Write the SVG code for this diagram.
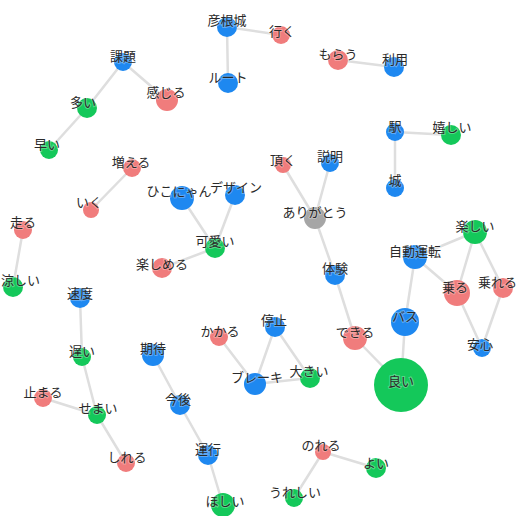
<svg xmlns="http://www.w3.org/2000/svg" width="518" height="516" viewBox="0 0 518 516">
<style>
.e{stroke:#dedede;stroke-width:2.5;fill:none;stroke-linecap:round}
.b{fill:#1e88f0}
.r{fill:#f07c7c}
.g{fill:#14c85a}
.k{fill:#a6a6a6}
text{font-family:"Noto Sans CJK JP","Noto Sans",sans-serif;font-size:13px;fill:#2a2a2a;text-anchor:middle;dominant-baseline:middle;stroke:#fff;stroke-width:2px;stroke-opacity:0.3;paint-order:stroke}
</style>
<rect width="518" height="516" fill="#fff"/>
<g id="edges">
<line class="e" x1="227" y1="27" x2="281" y2="35"/>
<line class="e" x1="227" y1="27" x2="228" y2="83"/>
<line class="e" x1="123" y1="62" x2="87" y2="108"/>
<line class="e" x1="123" y1="62" x2="167" y2="100"/>
<line class="e" x1="87" y1="108" x2="49" y2="150"/>
<line class="e" x1="132" y1="168" x2="91" y2="210"/>
<line class="e" x1="338" y1="60" x2="394" y2="67"/>
<line class="e" x1="395" y1="132" x2="451" y2="135"/>
<line class="e" x1="395" y1="132" x2="395" y2="188"/>
<line class="e" x1="283" y1="165" x2="315" y2="218"/>
<line class="e" x1="330" y1="163" x2="315" y2="218"/>
<line class="e" x1="315" y1="218" x2="335" y2="275"/>
<line class="e" x1="335" y1="275" x2="355" y2="338"/>
<line class="e" x1="355" y1="338" x2="401" y2="385"/>
<line class="e" x1="405" y1="322" x2="401" y2="385"/>
<line class="e" x1="415" y1="257" x2="405" y2="322"/>
<line class="e" x1="415" y1="257" x2="475" y2="232"/>
<line class="e" x1="415" y1="257" x2="457" y2="293"/>
<line class="e" x1="475" y1="232" x2="457" y2="293"/>
<line class="e" x1="475" y1="232" x2="503" y2="288"/>
<line class="e" x1="457" y1="293" x2="482" y2="348"/>
<line class="e" x1="503" y1="288" x2="482" y2="348"/>
<line class="e" x1="182" y1="198" x2="215" y2="248"/>
<line class="e" x1="235" y1="195" x2="215" y2="248"/>
<line class="e" x1="215" y1="248" x2="162" y2="268"/>
<line class="e" x1="23" y1="230" x2="13" y2="287"/>
<line class="e" x1="80" y1="298" x2="82" y2="357"/>
<line class="e" x1="82" y1="357" x2="97" y2="415"/>
<line class="e" x1="43" y1="398" x2="97" y2="415"/>
<line class="e" x1="97" y1="415" x2="126" y2="463"/>
<line class="e" x1="153" y1="355" x2="180" y2="405"/>
<line class="e" x1="180" y1="405" x2="208" y2="455"/>
<line class="e" x1="208" y1="455" x2="223" y2="505"/>
<line class="e" x1="219" y1="337" x2="255" y2="384"/>
<line class="e" x1="275" y1="327" x2="255" y2="384"/>
<line class="e" x1="275" y1="327" x2="310" y2="378"/>
<line class="e" x1="255" y1="384" x2="310" y2="378"/>
<line class="e" x1="323" y1="452" x2="376" y2="468"/>
<line class="e" x1="323" y1="452" x2="294" y2="498"/>
</g>
<g id="n-hikonejo"><circle class="b" cx="227" cy="27" r="10"/><text x="227" y="21">彦根城</text></g>
<g id="n-iku"><circle class="r" cx="281" cy="35" r="9"/><text x="282" y="32">行く</text></g>
<g id="n-route"><circle class="b" cx="228" cy="83" r="10"/><text x="228" y="78">ルート</text></g>
<g id="n-kadai"><circle class="b" cx="123" cy="62" r="9"/><text x="123" y="57">課題</text></g>
<g id="n-kanjiru"><circle class="r" cx="167" cy="100" r="11"/><text x="166" y="93">感じる</text></g>
<g id="n-ooi"><circle class="g" cx="87" cy="108" r="10"/><text x="83" y="103">多い</text></g>
<g id="n-hayai"><circle class="g" cx="49" cy="150" r="9"/><text x="47" y="145">早い</text></g>
<g id="n-fueru"><circle class="r" cx="132" cy="168" r="9"/><text x="131" y="163">増える</text></g>
<g id="n-iku2"><circle class="r" cx="91" cy="210" r="8"/><text x="89" y="203">いく</text></g>
<g id="n-morau"><circle class="r" cx="338" cy="60" r="10"/><text x="338" y="55">もらう</text></g>
<g id="n-riyou"><circle class="b" cx="394" cy="67" r="10"/><text x="395" y="60">利用</text></g>
<g id="n-eki"><circle class="b" cx="395" cy="132" r="9"/><text x="395" y="127">駅</text></g>
<g id="n-ureshii"><circle class="g" cx="451" cy="135" r="10"/><text x="452" y="128">嬉しい</text></g>
<g id="n-shiro"><circle class="b" cx="395" cy="188" r="9"/><text x="395" y="181">城</text></g>
<g id="n-itadaku"><circle class="r" cx="283" cy="165" r="8"/><text x="283" y="161">頂く</text></g>
<g id="n-setsumei"><circle class="b" cx="330" cy="163" r="9"/><text x="330" y="157">説明</text></g>
<g id="n-arigatou"><circle class="k" cx="315" cy="218" r="11"/><text x="315" y="213">ありがとう</text></g>
<g id="n-taiken"><circle class="b" cx="335" cy="275" r="10"/><text x="335" y="269">体験</text></g>
<g id="n-dekiru"><circle class="r" cx="355" cy="338" r="12"/><text x="355" y="333">できる</text></g>
<g id="n-yoi"><circle class="g" cx="401" cy="385" r="27"/><text x="401" y="382">良い</text></g>
<g id="n-bus"><circle class="b" cx="405" cy="322" r="14"/><text x="405" y="317">バス</text></g>
<g id="n-jidou"><circle class="b" cx="415" cy="257" r="12"/><text x="415" y="252">自動運転</text></g>
<g id="n-tanoshii"><circle class="g" cx="475" cy="232" r="12"/><text x="475" y="227">楽しい</text></g>
<g id="n-noru"><circle class="r" cx="457" cy="293" r="13"/><text x="455" y="288">乗る</text></g>
<g id="n-noreru"><circle class="r" cx="503" cy="288" r="10"/><text x="517" y="283" style="text-anchor:end">乗れる</text></g>
<g id="n-anshin"><circle class="b" cx="482" cy="348" r="9"/><text x="480" y="345">安心</text></g>
<g id="n-hikonyan"><circle class="b" cx="182" cy="198" r="12"/><text x="179" y="192">ひこにゃん</text></g>
<g id="n-design"><circle class="b" cx="235" cy="195" r="10"/><text x="236" y="188">デザイン</text></g>
<g id="n-kawaii"><circle class="g" cx="215" cy="248" r="10"/><text x="215" y="242">可愛い</text></g>
<g id="n-tanoshimeru"><circle class="r" cx="162" cy="268" r="10"/><text x="162" y="265">楽しめる</text></g>
<g id="n-hashiru"><circle class="r" cx="23" cy="230" r="9"/><text x="23" y="223">走る</text></g>
<g id="n-suzushii"><circle class="g" cx="13" cy="287" r="10"/><text x="1" y="281" style="text-anchor:start">涼しい</text></g>
<g id="n-sokudo"><circle class="b" cx="80" cy="298" r="10"/><text x="80" y="294">速度</text></g>
<g id="n-osoi"><circle class="g" cx="82" cy="357" r="9"/><text x="82" y="352">遅い</text></g>
<g id="n-tomaru"><circle class="r" cx="43" cy="398" r="9"/><text x="43" y="393">止まる</text></g>
<g id="n-semai"><circle class="g" cx="97" cy="415" r="9"/><text x="98" y="409">せまい</text></g>
<g id="n-shireru"><circle class="r" cx="126" cy="463" r="9"/><text x="127" y="458">しれる</text></g>
<g id="n-kitai"><circle class="b" cx="153" cy="355" r="11"/><text x="153" y="349">期待</text></g>
<g id="n-kongo"><circle class="b" cx="180" cy="405" r="10"/><text x="178" y="400">今後</text></g>
<g id="n-unkou"><circle class="b" cx="208" cy="455" r="10"/><text x="208" y="450">運行</text></g>
<g id="n-hoshii"><circle class="g" cx="223" cy="505" r="12"/><text x="225" y="502">ほしい</text></g>
<g id="n-kakaru"><circle class="r" cx="219" cy="337" r="9"/><text x="220" y="332">かかる</text></g>
<g id="n-teishi"><circle class="b" cx="275" cy="327" r="10"/><text x="274" y="321">停止</text></g>
<g id="n-brake"><circle class="b" cx="255" cy="384" r="11"/><text x="257" y="378">ブレーキ</text></g>
<g id="n-ookii"><circle class="g" cx="310" cy="378" r="10"/><text x="309" y="372">大きい</text></g>
<g id="n-noreru2"><circle class="r" cx="323" cy="452" r="8"/><text x="321" y="446">のれる</text></g>
<g id="n-yoi2"><circle class="g" cx="376" cy="468" r="10"/><text x="376" y="464">よい</text></g>
<g id="n-ureshii2"><circle class="g" cx="294" cy="498" r="9"/><text x="295" y="493">うれしい</text></g>
</svg>
